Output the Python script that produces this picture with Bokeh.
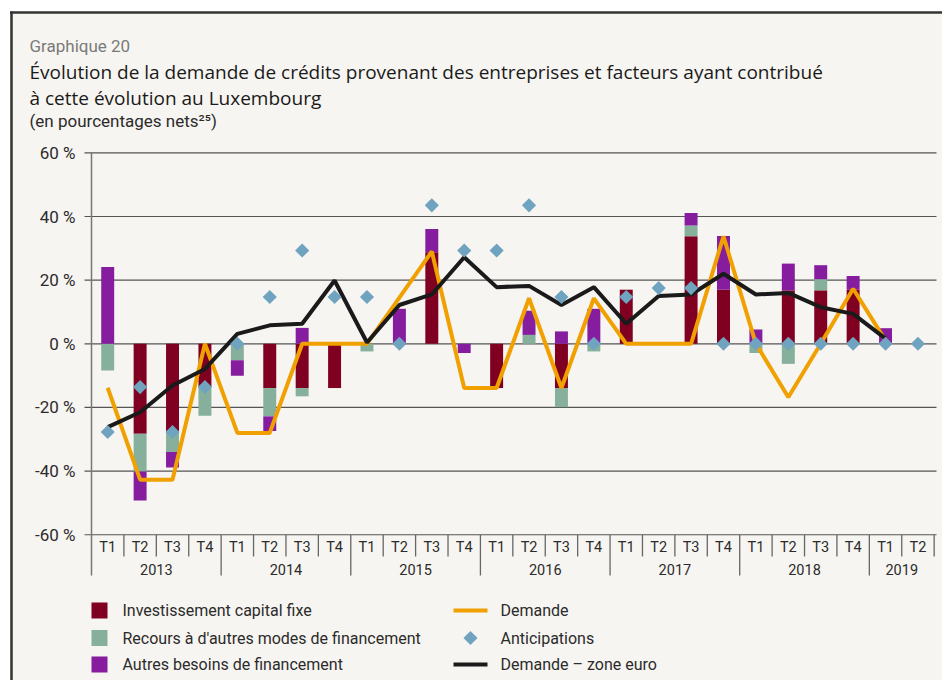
import numpy as np
from bokeh.plotting import figure
from bokeh.models import Range1d
from bokeh.core.properties import value
from bokeh.embed import file_html
from bokeh.resources import INLINE

# ---------------- data ----------------
quarters = ["T1", "T2", "T3", "T4"] * 6 + ["T1", "T2"]
years = ["2013", "2014", "2015", "2016", "2017", "2018", "2019"]

invest = [0, -28.3, -27.5, -13.6,
          0, -13.9, -13.9, -13.9,
          0, 0, 28.8, 0,
          -13.9, 0, -13.9, 0,
          17.0, 0, 33.8, 17.0,
          0, 16.8, 16.8, 17.0,
          0, 0]
recours = [-8.4, -11.8, -6.5, -9.0,
           -5.2, -8.9, -2.6, 0,
           -2.4, 0, 0, 0,
           0, 2.8, -6.0, -2.4,
           0, 0, 3.4, 0,
           -2.9, -6.3, 3.5, 0,
           0, 0]
autres = [24.1, -9.1, -4.9, 0,
          -4.8, -4.6, 5.0, 0,
          0, 11.0, 7.3, -2.9,
          0, 7.6, 3.9, 11.0,
          0, 0, 3.9, 16.9,
          4.5, 8.4, 4.4, 4.3,
          4.9, 0]
demande = [-13.8, -42.7, -42.7, 0,
           -28.0, -28.0, 0, 0,
           0, 14.5, 29.0, -13.9,
           -13.9, 14.3, -13.9, 14.3,
           0, 0, 0, 33.8,
           0, -16.8, 0, 17.3,
           1.0, None]
anticipations = [-27.7, -13.6, -27.7, -13.6,
                 0, 14.7, 29.3, 14.7,
                 14.7, 0, 43.5, 29.3,
                 29.3, 43.5, 14.7, 0,
                 14.7, 17.5, 17.5, 0,
                 0, 0, 0, 0,
                 0, 0]
zone_euro = [-26.2, -21.5, -13.1, -7.9,
             3.1, 5.8, 6.3, 19.9,
             0.4, 12.2, 15.5, 27.2,
             17.8, 18.2, 12.2, 17.8,
             6.3, 15.0, 15.5, 22.0,
             15.5, 16.0, 11.5, 9.4,
             1.6, None]

y_ticks = [-60, -40, -20, 0, 20, 40, 60]
y_tick_labels = ["-60 %", "-40 %", "-20 %", "0 %", "20 %", "40 %", "60 %"]

series_names = ["Investissement capital fixe",
                "Recours à d'autres modes de financement",
                "Autres besoins de financement"]
line_names = ["Demande", "Anticipations", "Demande – zone euro"]

title_small = "Graphique 20"
title_1 = "Évolution de la demande de crédits provenant des entreprises et facteurs ayant contribué"
title_2 = "à cette évolution au Luxembourg"
subtitle = "(en pourcentages nets²⁵)"

# ---------------- style / layout ----------------
RED = "#7f0020"
GREEN = "#87b09c"
PURPLE = "#851d9e"
ORANGE = "#f0a000"
BLUE = "#6fa3c0"
BLACK = "#1a1a1a"
BG = "#f7f5f1"
GRID = "#555555"
TXT = "#2b2b2b"
FONT = "Roboto"

W, H = 942, 680
K = 32.41            # px per category
X0 = 91              # screen x of first category edge (y axis line)
ZERO = 343.3         # screen y of 0 %
PXU = 3.1825         # px per percentage point
X_RANGE = (-X0 / K, (W - X0) / K)
Y_RANGE = (-(H - ZERO) / PXU, ZERO / PXU)


def dx(sx):
    return (sx - X0) / K


def dy(sy):
    return (ZERO - sy) / PXU


n = len(quarters)
xs = np.arange(n) + 0.5

p = figure(width=W, height=H, output_backend="svg", toolbar_location=None,
           x_range=Range1d(*X_RANGE), y_range=Range1d(Y_RANGE[0], Y_RANGE[1]),
           x_axis_location=None, y_axis_location=None)
p.min_border_left = 0
p.min_border_right = 0
p.min_border_top = 0
p.min_border_bottom = 0
p.outline_line_color = None
p.background_fill_color = "white"
p.border_fill_color = "white"
p.grid.visible = False

# beige panel with dark top/left border
p.quad(left=[dx(10)], right=[dx(W + 20)], top=[dy(12)], bottom=[dy(H + 20)],
       fill_color=BG, line_color=None)
p.segment(x0=[dx(9.5)], y0=[dy(12)], x1=[dx(W + 20)], y1=[dy(12)],
          line_color="#333333", line_width=2.5)
p.segment(x0=[dx(11)], y0=[dy(11)], x1=[dx(11)], y1=[dy(H + 20)],
          line_color="#333333", line_width=2.5)

# value axis: gridlines, ticks, labels
p.segment(x0=[dx(84)] * len(y_ticks), y0=y_ticks, x1=[dx(936)] * len(y_ticks),
          y1=y_ticks, line_color=GRID, line_width=1.2)
p.text(x=[dx(75)] * len(y_ticks), y=y_ticks, text=y_tick_labels,
       text_align="right", text_baseline="middle", text_font=value(FONT),
       text_font_size="17px", text_color=TXT)

# stacked bars: positives upward, negatives downward, same order
vals = np.array([invest, recours, autres], dtype=float)
pos = np.where(vals > 0, vals, 0.0)
neg = np.where(vals < 0, vals, 0.0)
pos_top = np.cumsum(pos, axis=0)
pos_bot = pos_top - pos
neg_bot = np.cumsum(neg, axis=0)
neg_top = neg_bot - neg
colors = [RED, GREEN, PURPLE]
for i, c in enumerate(colors):
    p.vbar(x=np.concatenate([xs, xs]), width=0.4,
           top=np.concatenate([pos_top[i], neg_top[i]]),
           bottom=np.concatenate([pos_bot[i], neg_bot[i]]),
           fill_color=c, line_color=None)

# lines and markers
p.line(xs, np.array(demande, dtype=float), line_color=ORANGE, line_width=4)
p.line(xs, np.array(zone_euro, dtype=float), line_color=BLACK, line_width=4)
p.scatter(xs, np.array(anticipations, dtype=float), marker="square",
          angle=np.pi / 4, size=10, fill_color=BLUE, line_color=None)

# category axis
p.segment(x0=[0], y0=[60], x1=[0], y1=[dy(575)], line_color="#777777", line_width=1.5)
bounds = np.arange(1, n + 1)
is_year = [(b % 4 == 0) and b < n for b in bounds]
p.segment(x0=bounds, y0=[-60] * n, x1=bounds,
          y1=[dy(575) if yb else dy(556) for yb in is_year],
          line_color="#666666", line_width=1.3)
p.text(x=xs, y=[dy(547)] * n, text=quarters, text_align="center",
       text_baseline="middle", text_font=value(FONT), text_font_size="14.5px",
       text_color=TXT)
year_x = [(4 * j + min(4 * j + 4, n)) / 2 for j in range(len(years))]
p.text(x=year_x, y=[dy(569)] * len(years), text=years, text_align="center",
       text_baseline="middle", text_font=value(FONT), text_font_size="14.5px",
       text_color=TXT)

# legend
rows = [dy(610), dy(637.5), dy(664)]
p.rect(x=[dx(99)] * 3, y=rows, width=16, height=16, width_units="screen",
       height_units="screen", fill_color=colors, line_color=None)
p.text(x=[dx(122)] * 3, y=rows, text=series_names, text_baseline="middle",
       text_font=value(FONT), text_font_size="16px", text_color=TXT)
p.line([dx(453), dx(487)], [rows[0], rows[0]], line_color=ORANGE, line_width=4)
p.scatter([dx(470)], [rows[1]], marker="square", angle=np.pi / 4, size=10,
          fill_color=BLUE, line_color=None)
p.line([dx(453), dx(487)], [rows[2], rows[2]], line_color=BLACK, line_width=4)
p.text(x=[dx(500)] * 3, y=rows, text=line_names, text_baseline="middle",
       text_font=value(FONT), text_font_size="16px", text_color=TXT)

# titles
p.text(x=[dx(29)], y=[dy(45)], text=[title_small], text_font=value(FONT),
       text_font_size="17px", text_color="#7a7a7a", text_baseline="alphabetic")
p.text(x=[dx(29)] * 2, y=[dy(71), dy(97)], text=[title_1, title_2],
       text_font=value("Open Sans"), text_font_size="19px", text_color="#1a1a1a",
       text_baseline="alphabetic")
p.text(x=[dx(29)], y=[dy(120)], text=[subtitle], text_font=value(FONT),
       text_font_size="17px", text_color=TXT, text_baseline="alphabetic")

open("out.html", "w").write(file_html(p, INLINE))
